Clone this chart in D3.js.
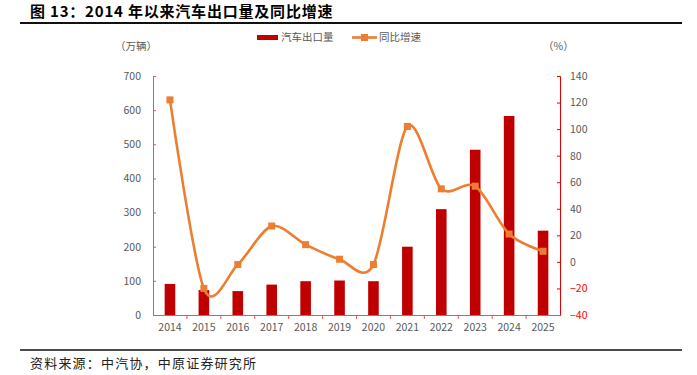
<!DOCTYPE html>
<html lang="zh">
<head>
<meta charset="utf-8">
<title>2014 年以来汽车出口量及同比增速</title>
<style>
  body { margin: 0; background: #fff; }
  text { font-family: "Noto Sans CJK SC", "Noto Sans", sans-serif; }
</style>
</head>
<body>
<svg width="697" height="375"></svg>
<script src="https://d3js.org/d3.v7.min.js"></script>
<script>
// data
var years = ["2014", "2015", "2016", "2017", "2018", "2019", "2020", "2021", "2022", "2023", "2024", "2025"];
var exportVol = [91, 73, 70, 89, 99, 101, 99, 200, 310, 484, 583, 247];   // 万辆
var growth = [122, -20, -2, 27, 13, 2, -2, 102, 55, 57, 21, 8];            // %
var leftTicks = [0, 100, 200, 300, 400, 500, 600, 700];
var rightTicks = [-40, -20, 0, 20, 40, 60, 80, 100, 120, 140];

var svg = d3.select("svg");
var plotL = 153, plotR = 560, plotT = 76, plotB = 315;

var x = d3.scaleBand().domain(years).range([plotL, plotR]);
var yL = d3.scaleLinear().domain([0, 700]).range([plotB, plotT]);
var yR = d3.scaleLinear().domain([-40, 140]).range([plotB, plotT]);

// title + rules
svg.append("text").attr("x", 30).attr("y", 17)
  .attr("font-size", 15).attr("font-weight", "bold").attr("fill", "#000")
  .attr("letter-spacing", 0.8)
  .text("图 13：2014 年以来汽车出口量及同比增速");
svg.append("line").attr("x1", 20).attr("x2", 682).attr("y1", 23).attr("y2", 23)
  .attr("stroke", "#111").attr("stroke-width", 2);
svg.append("line").attr("x1", 20).attr("x2", 682).attr("y1", 350).attr("y2", 350)
  .attr("stroke", "#111").attr("stroke-width", 1.5);
svg.append("text").attr("x", 30).attr("y", 368)
  .attr("font-size", 13).attr("fill", "#222").attr("letter-spacing", 1.2)
  .text("资料来源：中汽协，中原证券研究所");

// unit labels
svg.append("text").attr("x", 115).attr("y", 50).attr("font-size", 10.5).attr("fill", "#595959").text("（万辆）");
svg.append("text").attr("x", 543).attr("y", 50).attr("font-size", 10.5).attr("fill", "#595959").text("（%）");

// bars
svg.append("g").selectAll("rect").data(exportVol).join("rect")
  .attr("x", function(d, i) { return x(years[i]) + x.bandwidth() / 2 - 5.3; })
  .attr("width", 10.6)
  .attr("y", function(d) { return yL(d); })
  .attr("height", function(d) { return plotB - yL(d); })
  .attr("fill", "#C00000");

// axes
var axL = svg.append("g").attr("transform", "translate(" + plotL + ",0)")
  .call(d3.axisLeft(yL).tickValues(leftTicks).tickSize(-3).tickPadding(12));
axL.selectAll("text").attr("font-size", 10.5).attr("fill", "#595959")
  .attr("font-family", "Liberation Sans, Arial, sans-serif");
axL.selectAll("line, path").attr("stroke", "#D9595E");

var axR = svg.append("g").attr("transform", "translate(" + plotR + ",0)")
  .call(d3.axisRight(yR).tickValues(rightTicks).tickSize(-3).tickPadding(10));
axR.selectAll("text").attr("font-size", 10.5)
  .attr("font-family", "Liberation Sans, Arial, sans-serif")
  .attr("fill", function(d) { return d < 0 ? "#FF0000" : "#595959"; });
axR.selectAll("line, path").attr("stroke", "#E00000");

var axX = svg.append("g").attr("transform", "translate(0," + plotB + ")")
  .call(d3.axisBottom(x).tickSize(0).tickPadding(9));
axX.selectAll("text").attr("font-size", 10.5).attr("fill", "#595959")
  .attr("font-family", "Liberation Sans, Arial, sans-serif");
axX.selectAll("path").attr("stroke", "#D9595E");
axX.append("g").selectAll("line").data(years.slice(1)).join("line")
  .attr("x1", function(d) { return x(d); }).attr("x2", function(d) { return x(d); })
  .attr("y1", 0).attr("y2", 4).attr("stroke", "#D9595E");

// growth line (smoothed like the original)
var cx = function(d, i) { return x(years[i]) + x.bandwidth() / 2; };
svg.append("path").datum(growth)
  .attr("d", d3.line().x(cx).y(function(d) { return yR(d); }).curve(d3.curveCardinal.tension(0.1)))
  .attr("fill", "none").attr("stroke", "#ED7D31").attr("stroke-width", 2.6);
svg.append("g").selectAll("rect").data(growth).join("rect")
  .attr("x", function(d, i) { return cx(d, i) - 3.5; })
  .attr("y", function(d) { return yR(d) - 3.5; })
  .attr("width", 7).attr("height", 7).attr("fill", "#ED7D31");

// legend
var lg = svg.append("g");
lg.append("rect").attr("x", 257).attr("y", 35).attr("width", 21).attr("height", 5).attr("fill", "#C00000");
lg.append("text").attr("x", 281).attr("y", 41).attr("font-size", 10.5).attr("fill", "#595959").text("汽车出口量");
lg.append("line").attr("x1", 352).attr("x2", 377).attr("y1", 37.5).attr("y2", 37.5)
  .attr("stroke", "#ED7D31").attr("stroke-width", 2.6);
lg.append("rect").attr("x", 361).attr("y", 34).attr("width", 7).attr("height", 7).attr("fill", "#ED7D31");
lg.append("text").attr("x", 379).attr("y", 41).attr("font-size", 10.5).attr("fill", "#595959").text("同比增速");
</script>
</body>
</html>
